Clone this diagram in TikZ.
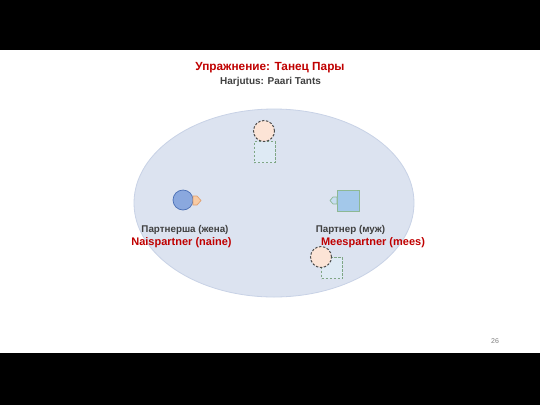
\documentclass[tikz,border=0pt]{standalone}
\usepackage{fontspec}
\setmainfont{Liberation Sans}
\usetikzlibrary{shapes.geometric}
\definecolor{titlered}{HTML}{C00000}
\definecolor{txtgray}{HTML}{404040}
\definecolor{ellfill}{HTML}{DCE3F0}
\definecolor{elldraw}{HTML}{C8D2E6}
\definecolor{bluefill}{HTML}{8AA8DE}
\definecolor{bluedraw}{HTML}{4A6FB5}
\definecolor{orfill}{HTML}{F8CBA4}
\definecolor{ordraw}{HTML}{E0A070}
\definecolor{sqfill}{HTML}{A3C8EA}
\definecolor{sqdraw}{HTML}{8DB894}
\definecolor{ghostfill}{HTML}{FCE4D6}
\definecolor{ghostsq}{HTML}{DEEAF4}
\begin{document}
\begin{tikzpicture}[x=1pt,y=-1pt,
  band/.style={fill=black,draw=none},
  ghostcirc/.style={circle,draw=black!70,fill=ghostfill,minimum size=21pt,inner sep=0pt,line width=1pt,dash pattern=on 2.4pt off 1.6pt},
  ghostbox/.style={rectangle,draw=sqdraw!90!black,fill=ghostsq,minimum width=21pt,minimum height=21pt,inner sep=0pt,line width=1pt,dash pattern=on 2.4pt off 1.6pt},
  redlbl/.style={text=titlered,font=\bfseries\fontsize{11}{13}\selectfont,inner sep=0pt},
  graylbl/.style={text=txtgray,font=\bfseries\fontsize{9.8}{11}\selectfont,inner sep=0pt}]
\useasboundingbox (0,0) rectangle (540,405);
\fill[white] (0,0) rectangle (540,405);
\fill[band] (0,0) rectangle (540,50);
\fill[band] (0,353) rectangle (540,405);
% titles
\node[redlbl,font=\bfseries\fontsize{11.8}{13}\selectfont] (title) at (270,68) {Упражнение: Танец Пары};
\node[graylbl,font=\bfseries\fontsize{10}{11}\selectfont] (subtitle) at (270.5,81.5) {Harjutus: Paari Tants};
% dance floor
\node[ellipse,draw=elldraw,fill=ellfill,line width=0.8pt,minimum width=280pt,minimum height=188pt,inner sep=0pt] (floor) at (274,203) {};
% ghost positions
\node[ghostbox] (gsq1) at (264.5,152) {};
\node[ghostcirc] (gc1) at (264,131) {};
\node[ghostbox] (gsq2) at (332,268) {};
\node[ghostcirc] (gc2) at (321,257) {};
% woman
\node[circle,draw=bluedraw,fill=bluefill,minimum size=20pt,inner sep=0pt,line width=0.7pt] (woman) at (183,200) {};
\draw[draw=ordraw,fill=orfill,line width=0.7pt] (193,196) -- (197,196) -- (201,200.5) -- (197,205) -- (193,205) -- cycle;
% man
\node[rectangle,draw=sqdraw,fill=sqfill,minimum width=22pt,minimum height=21pt,inner sep=0pt,line width=0.9pt] (man) at (348,200.5) {};
\draw[draw=sqdraw,fill=sqfill!60,line width=0.7pt] (337,197) -- (333,197) -- (330,200.5) -- (333,204) -- (337,204) -- cycle;
% labels
\node[graylbl] (wru) at (185,229.5) {Партнерша (жена)};
\node[redlbl] (wet) at (181.5,243) {Naispartner (naine)};
\node[graylbl] (mru) at (350.5,229.5) {Партнер (муж)};
\node[redlbl] (met) at (373,243) {Meespartner (mees)};
% page number
\node[text=black!50,font=\fontsize{7}{8}\selectfont,inner sep=0pt] (page) at (495,341) {26};
\end{tikzpicture}
\end{document}
